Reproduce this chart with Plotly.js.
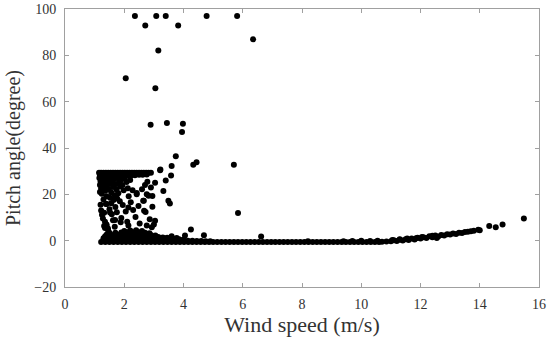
<!DOCTYPE html>
<html>
<head>
<meta charset="utf-8">
<script src="https://cdn.plot.ly/plotly-3.0.1.min.js"></script>
<style>html,body{margin:0;padding:0;background:#fff;}#chart{width:550px;height:345px;}</style>
</head>
<body>
<div id="chart"></div>
<script>
// Isolated points (wind speed m/s, pitch angle degree)
var outlierX = [2.36,2.71,3.08,3.40,3.82,3.15,2.05,3.05,2.89,3.44,3.98,3.95,3.74,3.60,3.22,4.33,4.44,4.78,5.81,6.35,5.70,5.84,4.69,6.62,15.49,14.77,14.54,14.32,3.60,4.05,4.25,3.77];
var outlierY = [97,92.9,97,97,92.9,82.1,70.1,65.8,50.0,50.8,50.5,46.9,36.4,32.2,30.7,32.8,33.8,97,97,86.9,32.8,11.9,2.3,1.8,9.6,7.0,5.8,6.3,1.9,2.2,4.8,1.1];

// Band of points at the pitch upper limit (~29 deg)
var bandX = [1.15,1.22,1.30,1.38,1.46,1.54,1.62,1.70,1.78,1.86,1.94,2.02,2.10,2.18,2.26,2.34,2.42,2.50,2.58,2.66,2.74,2.82,2.90,
             1.18,1.28,1.40,1.52,1.64,1.76,1.88,2.00,2.12,2.24,2.36,2.50,2.62,2.76];
var bandY = [29.3,29.3,29.3,29.3,29.3,29.3,29.3,29.3,29.3,29.3,29.3,29.3,29.3,29.3,29.3,29.3,29.3,29.3,29.3,29.3,29.3,29.3,29.3,
             28.2,28.2,28.2,28.2,28.2,28.2,28.2,28.2,28.2,28.2,28.2,28.4,28.4,28.6];

// Low wind cluster between 5 and 28 deg
var clusterX = [1.16,1.20,1.18,1.22,1.26,1.30,1.28,1.34,1.38,1.42,1.36,1.46,1.50,1.48,1.55,1.58,1.62,1.56,1.66,1.70,1.74,1.68,1.78,1.82,1.86,1.90,1.94,1.98,1.80,1.24,1.40,1.52,1.18,2.02,2.08,2.12,2.20,1.64,1.30,1.76,
                1.20,1.22,1.25,1.28,1.32,1.35,1.40,1.45,1.38,1.50,1.58,1.62,1.56,1.70,1.75,1.68,1.85,1.90,1.95,2.05,2.10,2.15,2.22,2.30,2.28,2.38,2.42,2.48,2.52,2.60,2.66,2.72,2.78,2.82,2.86,2.95,3.00,2.70,2.90,
                2.42,2.76,2.95,3.04,3.32,3.40,3.49,2.64,2.14,2.67,2.76,2.93,3.04,2.14,1.88,1.69,1.52,1.41,3.58,3.54,3.21,1.35,1.40,1.32,1.45];
var clusterY = [27.0,25.5,24.0,22.5,26.5,24.8,23.0,27.2,25.6,23.8,21.5,26.8,24.6,22.2,27.0,25.0,23.2,20.8,26.5,24.3,22.0,19.6,27.1,25.2,23.4,26.3,24.0,21.8,20.5,20.2,19.2,18.5,21.0,27.0,25.3,22.6,26.2,17.6,17.8,18.2,
                15.5,13.0,11.2,9.6,12.0,8.2,6.5,5.2,15.8,13.6,11.4,8.8,16.2,14.5,12.3,6.0,17.0,9.8,15.4,12.6,8.2,19.2,16.6,13.2,21.8,10.2,20.6,15.0,7.4,22.2,17.2,12.4,25.4,19.4,9.2,14.6,7.0,24.0,23.0,
                20.0,20.0,19.3,25.0,21.4,26.0,17.2,17.2,14.3,12.9,6.5,5.8,8.6,6.5,7.9,8.9,12.2,15.8,28.1,16.0,30.4,5.5,7.0,6.3,4.6];

// Dense low-pitch mound at low wind speed
var moundX = [2.00,2.20,2.40,2.60,
              1.50,1.70,1.90,2.10,2.30,2.50,2.70,2.85,
              1.40,1.55,1.70,1.85,2.00,2.15,2.30,2.45,2.60,2.75,2.90,3.05,
              1.35,1.50,1.65,1.80,1.95,2.10,2.25,2.40,2.55,2.70,2.85,3.00,3.15,3.30,3.45,
              1.30,1.45,1.60,1.75,1.90,2.05,2.20,2.35,2.50,2.65,2.80,2.95,3.10,3.25,3.40,3.55,3.70,3.85,4.00,
              1.30,1.45,1.60,1.75,1.90,2.05,2.20,2.35,2.50,2.65,2.80,2.95,3.10,3.25,3.40,3.55,3.70,3.85,4.00,4.15,4.30,4.45,4.60,4.75,4.90];
var moundY = [4.2,4.4,4.5,4.2,
              3.4,3.4,3.5,3.6,3.6,3.6,3.4,3.2,
              2.6,2.6,2.6,2.7,2.7,2.7,2.8,2.8,2.7,2.6,2.5,2.2,
              1.8,1.8,1.8,1.8,1.9,1.9,1.9,1.9,1.9,1.8,1.8,1.7,1.6,1.4,1.3,
              1.0,1.0,1.0,1.0,1.0,1.0,1.0,1.0,1.0,1.0,1.0,1.0,1.0,0.9,0.9,0.8,0.7,0.6,0.5,
              0.3,0.3,0.3,0.3,0.3,0.3,0.3,0.3,0.3,0.3,0.3,0.3,0.3,0.3,0.2,0.2,0.2,0.1,0.1,0.0,0.0,-0.1,-0.1,-0.2,-0.2];

// Zero-pitch baseline
var baseX = [1.22,1.36,1.50,1.64,1.78,1.92,2.06,2.20,2.34,2.48,2.62,2.76,2.90,3.04,3.18,3.32,3.46,3.60,3.74,3.88,4.02,4.16,4.30,4.44,4.58,4.72,4.86,5.00,
             5.14,5.28,5.42,5.56,5.70,5.84,5.98,6.12,6.26,6.40,6.54,6.68,6.82,6.96,7.10,7.24,7.38,7.52,7.66,7.80,7.94,8.08,8.22,8.36,8.50,8.64,8.78,8.92,
             9.06,9.20,9.34,9.48,9.62,9.76,9.90,10.04,10.18,10.32,10.46,10.60,
             8.20,9.40,9.70,10.00,10.30,10.55];
var baseY = [-0.6,-0.6,-0.6,-0.6,-0.6,-0.6,-0.6,-0.6,-0.6,-0.6,-0.6,-0.6,-0.6,-0.6,-0.6,-0.6,-0.6,-0.6,-0.6,-0.6,-0.6,-0.6,-0.6,-0.6,-0.6,-0.6,-0.6,-0.6,
             -0.6,-0.6,-0.6,-0.6,-0.6,-0.6,-0.6,-0.6,-0.6,-0.6,-0.6,-0.6,-0.6,-0.6,-0.6,-0.6,-0.6,-0.6,-0.6,-0.6,-0.6,-0.6,-0.6,-0.6,-0.6,-0.6,-0.6,-0.6,
             -0.6,-0.6,-0.6,-0.6,-0.6,-0.6,-0.6,-0.6,-0.6,-0.6,-0.6,-0.6,
             -0.2,-0.2,-0.1,0.0,-0.1,0.0];

// Rising pitch above rated wind speed
var curveX = [10.70,10.85,11.00,11.10,11.20,11.30,11.40,11.50,11.60,11.70,11.80,11.90,12.00,12.10,12.20,12.30,12.40,12.50,12.60,12.70,12.80,12.90,13.00,13.10,13.20,13.30,13.40,13.50,13.60,13.70,13.80,13.95,14.00,
              11.05,11.30,11.55,11.85,12.05,12.40,12.55];
var curveY = [-0.5,-0.4,-0.3,0.2,-0.1,0.4,0.1,0.6,0.3,0.9,0.5,1.3,0.9,1.5,1.2,1.9,1.5,2.2,1.8,2.5,2.2,2.8,2.7,3.1,2.9,3.4,3.3,3.7,3.8,4.1,4.3,4.7,4.5,
              0.3,0.6,0.9,1.0,1.6,2.1,1.1];

var xs = [].concat(outlierX, bandX, clusterX, moundX, baseX, curveX);
var ys = [].concat(outlierY, bandY, clusterY, moundY, baseY, curveY);

var trace = {
  x: xs, y: ys, type: 'scatter', mode: 'markers',
  marker: {color: '#000', size: 6},
  hoverinfo: 'skip', cliponaxis: false
};

var fontFam = 'Liberation Serif, DejaVu Serif, serif';
var axisCommon = {
  showline: true, mirror: 'ticks', linecolor: '#a0a0a0', linewidth: 1,
  ticks: 'inside', ticklen: 4, tickcolor: '#a0a0a0', tickwidth: 1,
  showgrid: false, zeroline: false, ticklabeloverflow: 'allow',
  tickfont: {family: fontFam, size: 14, color: '#333'}
};

var layout = {
  width: 550, height: 345,
  margin: {l: 65, r: 11, t: 9, b: 58},
  paper_bgcolor: '#fff', plot_bgcolor: '#fff',
  showlegend: false,
  font: {family: fontFam, color: '#333'},
  xaxis: Object.assign({}, axisCommon, {
    range: [0, 16], tick0: 0, dtick: 2, ticklabelstandoff: 4,
    title: {text: 'Wind speed (m/s)', font: {family: fontFam, size: 22, color: '#333'}, standoff: 5}
  }),
  yaxis: Object.assign({}, axisCommon, {
    range: [-20, 100], tick0: -20, dtick: 20, ticklabelstandoff: 5,
    title: {text: 'Pitch angle(degree)', font: {family: fontFam, size: 20, color: '#333'}, standoff: 8}
  })
};

Plotly.newPlot('chart', [trace], layout, {displayModeBar: false, staticPlot: true});
</script>
</body>
</html>
